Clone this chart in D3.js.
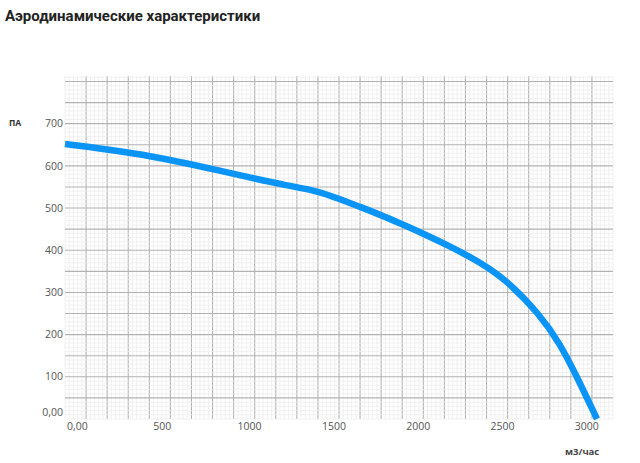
<!DOCTYPE html>
<html>
<head>
<meta charset="utf-8">
<script src="https://cdn.jsdelivr.net/npm/d3@7"></script>
<style>
  body { margin: 0; background: #fff; }
  .tick-label { font-family: "Open Sans", sans-serif; font-size: 10.5px; fill: #555; }
</style>
</head>
<body>
<div id="chart"></div>
<script>
// flow (m3/h) and pressure (Pa)
var flow     = [0, 505, 920, 1350, 1495, 1630, 1750, 1870, 1985, 2105, 2285, 2460, 2620, 2815, 2935, 3035, 3155];
var pressure = [652, 626, 588, 550, 541, 521, 503, 484, 464, 443, 409, 372, 329, 248, 179, 101, 0];

var xTicks = [0, 500, 1000, 1500, 2000, 2500, 3000];
var yTicks = [0, 100, 200, 300, 400, 500, 600, 700];

var width = 640, height = 463;

var svg = d3.select("#chart")
  .append("svg")
    .attr("width", width)
    .attr("height", height);

// scales: one major grid cell = 125 m3/h by 50 Pa
var x = d3.scaleLinear()
    .domain([0, 3250])
    .range([65, 613]);
var y = d3.scaleLinear()
    .domain([0, 813])
    .range([419, 76]);

// grid: minor every 25 / 10, major every 125 / 50
var grid = svg.append("g");
d3.range(0, 3251, 25).forEach(function(v) {
  var major = v % 125 === 0 && v > 0 && v < 3250;
  grid.append("line")
    .attr("x1", x(v)).attr("x2", x(v))
    .attr("y1", y(813)).attr("y2", y(0))
    .style("stroke", major ? "#b2b2b2" : "#ebebeb")
    .style("stroke-width", major ? 1.1 : 0.7);
});
d3.range(0, 811, 10).forEach(function(v) {
  var major = v % 50 === 0 && v > 0;
  grid.append("line")
    .attr("x1", x(0)).attr("x2", x(3250))
    .attr("y1", y(v)).attr("y2", y(v))
    .style("stroke", major ? "#b2b2b2" : "#ebebeb")
    .style("stroke-width", major ? 1.1 : 0.7);
});

// y axis labels
svg.append("g")
  .selectAll("text")
  .data(yTicks)
  .enter()
  .append("text")
    .attr("class", "tick-label")
    .attr("x", 63)
    .attr("y", function(d) { return y(d) + (d === 0 ? -7 : 0); })
    .attr("dy", "0.35em")
    .attr("text-anchor", "end")
    .text(function(d) { return d === 0 ? "0,00" : d; });

// x axis labels
svg.append("g")
  .selectAll("text")
  .data(xTicks)
  .enter()
  .append("text")
    .attr("class", "tick-label")
    .attr("x", function(d) { return x(d) + (d === 0 ? 2 : 4); })
    .attr("y", 426)
    .attr("dy", "0.35em")
    .attr("text-anchor", "start")
    .text(function(d) { return d === 0 ? "0,00" : d; });

// curve
var line = d3.line()
    .x(function(d, i) { return x(flow[i]); })
    .y(function(d, i) { return y(pressure[i]); })
    .curve(d3.curveBasis);
svg.append("path")
    .attr("fill", "none")
    .attr("stroke", "#0a94f6")
    .attr("stroke-width", 6.5)
    .attr("d", line(flow));

// title and unit labels
svg.append("text")
    .attr("x", 5)
    .attr("y", 21)
    .style("font-family", "Roboto, sans-serif")
    .style("font-weight", "bold")
    .style("font-size", "15px")
    .style("fill", "#222")
    .text("Аэродинамические характеристики");

svg.append("text")
    .attr("x", 9)
    .attr("y", 123)
    .attr("dy", "0.35em")
    .style("font-family", "Open Sans, sans-serif")
    .style("font-weight", "bold")
    .style("font-size", "8.5px")
    .style("fill", "#333")
    .text("ПА");

svg.append("text")
    .attr("x", 565)
    .attr("y", 452)
    .attr("dy", "0.35em")
    .style("font-family", "Open Sans, sans-serif")
    .style("font-weight", "bold")
    .style("font-size", "9.5px")
    .style("fill", "#444")
    .text("м3/час");
</script>
</body>
</html>
